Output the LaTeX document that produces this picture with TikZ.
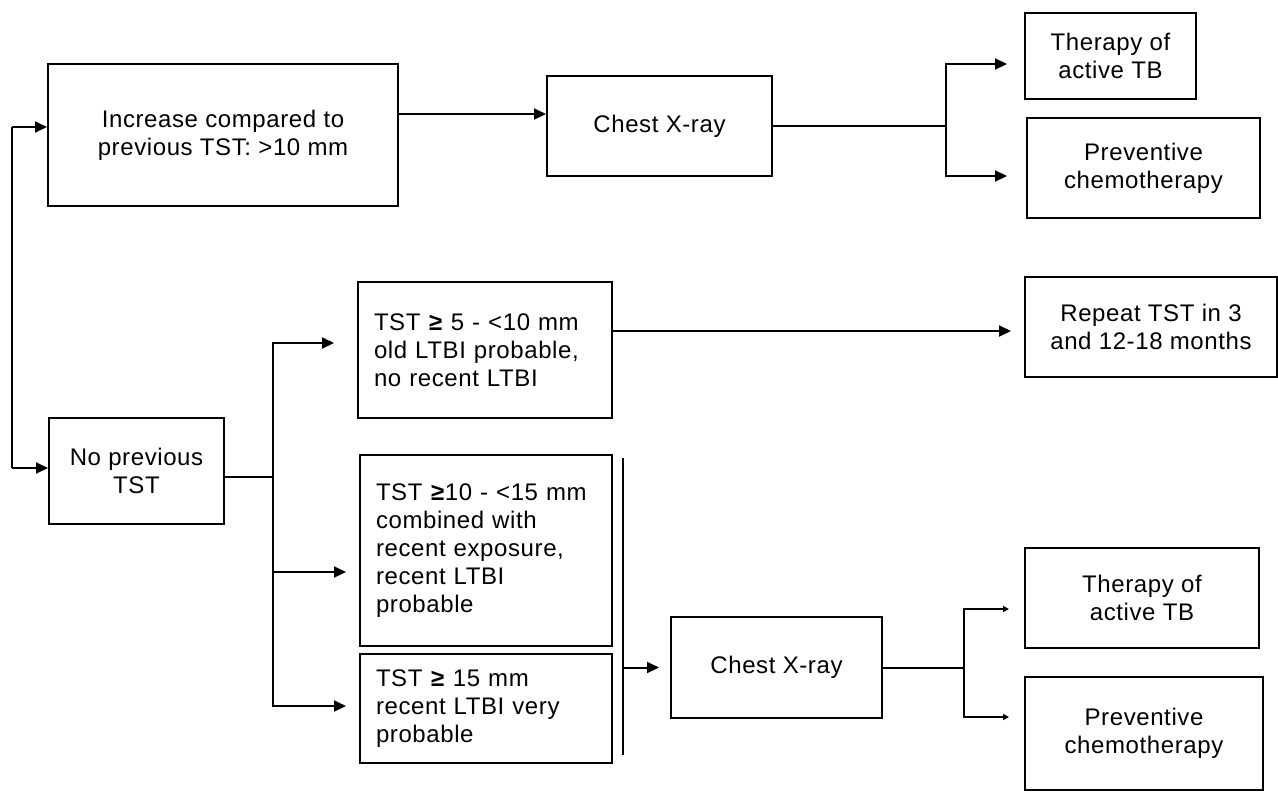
\documentclass[tikz,border=0pt]{standalone}
\usepackage{fontspec}
\setmainfont{Liberation Sans}[LetterSpace=2.5]
\usetikzlibrary{positioning, arrows.meta}

\begin{document}
\begin{tikzpicture}[
    x=1pt, y=-1pt,
    line width=2pt,
    every node/.style={font=\fontsize{24}{28}\selectfont},
    box/.style={draw, rectangle, inner sep=0pt, align=center},
    tstbox/.style={draw, rectangle, inner xsep=16pt, inner ysep=0pt, align=left},
    arr/.style={-{Triangle[length=12pt, width=11pt]}},
    arrsmall/.style={-{Triangle[length=6pt, width=6pt]}}
]
\useasboundingbox (0,0) rectangle (1278,793);

% upper branch
\node[box, minimum width=350pt, minimum height=142pt] (inc) at (223,135) {Increase compared to\\previous TST: >10 mm};
\node[box, minimum width=225pt, minimum height=100pt] (cxr1) at (659.5,126) {Chest X-ray};
\node[box, minimum width=171pt, minimum height=86pt] (ther1) at (1110.5,56) {Therapy of\\active TB};
\node[box, minimum width=233pt, minimum height=100pt] (prev1) at (1143.5,168) {Preventive\\chemotherapy};

% lower branch
\node[box, minimum width=175pt, minimum height=106pt] (noprev) at (136.5,471) {No previous\\TST};
\node[tstbox, text width=222pt, minimum height=136pt] (tst5) at (485,350) {TST \textbf{≥} 5 - <10 mm\\old LTBI probable,\\no recent LTBI};
\node[box, minimum width=252pt, minimum height=100pt] (rep) at (1151,327) {Repeat TST in 3\\and 12-18 months};
\node[tstbox, text width=220pt, minimum height=191pt] (tst10) at (486,550.5) {TST \textbf{≥}10 - <15 mm\\combined with\\recent exposure,\\recent LTBI\\probable};
\node[tstbox, text width=220pt, minimum height=109pt] (tst15) at (486,708.5) {TST \textbf{≥} 15 mm\\recent LTBI very\\probable};
\node[box, minimum width=211pt, minimum height=101pt] (cxr2) at (776.5,667.5) {Chest X-ray};
\node[box, minimum width=234pt, minimum height=100pt] (ther2) at (1142,598) {Therapy of\\active TB};
\node[box, minimum width=238pt, minimum height=113pt] (prev2) at (1144,733.5) {Preventive\\chemotherapy};

% junctions
\coordinate (ltop) at (12,127);
\coordinate (lbot) at (12,468);
\coordinate (j1) at (946,126);
\coordinate (j2) at (273,477);
\coordinate (brtop) at (623,458);
\coordinate (brbot) at (623,755);
\coordinate (j3) at (964,667.5);

\draw (ltop) -- (lbot);
\draw[arr] (ltop) -- (ltop -| inc.west);
\draw[arr] (lbot) -- (lbot -| noprev.west);

\draw[arr] ([yshift=21pt]inc.east) -- ([yshift=21pt]inc.east -| cxr1.west);
\draw (cxr1.east) -- (j1);
\draw[arr, shorten >=17pt] (j1) |- ([yshift=-8pt]ther1.west);
\draw[arr, shorten >=19pt] (j1) |- ([yshift=-8pt]prev1.west);

\draw ([yshift=-6pt]noprev.east) -- (j2);
\draw[arr, shorten >=23pt] (j2) |- ([yshift=7pt]tst5.west);
\draw[arr, shorten >=13pt] (j2) |- ([yshift=-21.5pt]tst10.west);
\draw[arr, shorten >=13pt] (j2) |- ([yshift=2.5pt]tst15.west);
\draw[arr, shorten >=13pt] ([yshift=19pt]tst5.east) -- ([yshift=19pt]tst5.east -| rep.west);

\draw (brtop) -- (brbot);
\draw[arr, shorten >=11pt] (brtop |- cxr2.west) -- (cxr2.west);
\draw (cxr2.east) -- (j3);
\draw[arrsmall, shorten >=15pt] (j3) |- ([yshift=-11pt]ther2.west);
\draw[arrsmall, shorten >=15pt] (j3) |- ([yshift=16.5pt]prev2.west);
\end{tikzpicture}
\end{document}
